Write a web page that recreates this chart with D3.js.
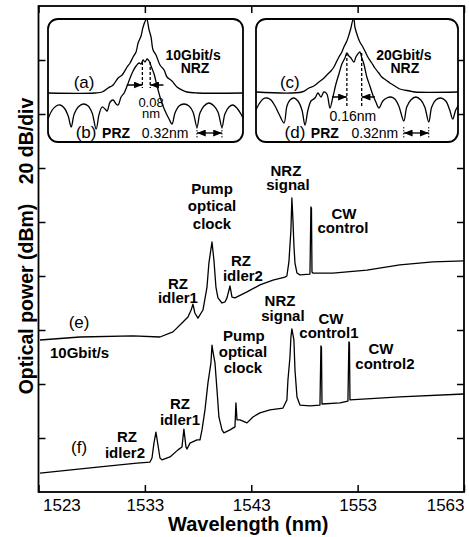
<!DOCTYPE html>
<html>
<head>
<meta charset="utf-8">
<script src="https://cdn.jsdelivr.net/npm/d3@7"></script>
<style>
  body { margin: 0; background: #fff; }
  text { font-family: "Liberation Sans", Arial, sans-serif; fill: #000; }
</style>
</head>
<body>
<div id="chart"></div>
<script>
// ---- data (wavelength nm, power dB) ----
const xTicks = [1523, 1533, 1543, 1553, 1563];
const yTicks = [-160, -140, -120, -100, -80, -60, -40, -20];

// (e) 10 Gbit/s spectrum
const traceE = [
  [1523.14,-123.7],[1526.90,-122.6],[1531.88,-122.2],[1534.42,-122.6],[1535.64,-120.7],
  [1536.49,-117.4],[1537.05,-115.2],[1537.35,-112.6],[1537.52,-110.4],[1537.70,-113.7],
  [1537.99,-115.6],[1538.46,-112.6],[1538.84,-104.1],[1539.02,-95.2],[1539.31,-87.4],
  [1539.49,-94.1],[1539.68,-104.1],[1539.87,-108.1],[1540.25,-110.0],[1540.53,-109.6],
  [1540.72,-108.1],[1541.00,-103.7],[1541.19,-107.8],[1541.47,-108.1],[1542.60,-105.9],
  [1543.82,-103.3],[1545.04,-101.5],[1546.17,-100.4],[1546.35,-100.0],[1546.54,-94.8],
  [1546.73,-83.0],[1546.82,-71.1],[1546.92,-79.3],[1547.01,-88.5],[1547.11,-95.2],
  [1547.30,-98.9],[1547.58,-99.6],[1548.52,-99.3],[1548.61,-74.4],[1548.66,-75.0],
  [1548.71,-98.5],[1548.80,-98.9],[1550.68,-98.9],[1553.87,-97.8],[1556.97,-95.9],
  [1560.08,-94.8],[1563.00,-94.4]
];

// (f) 20 Gbit/s spectrum
const traceF = [
  [1523.14,-173.0],[1528.78,-170.7],[1532.26,-169.3],[1533.48,-168.9],[1533.67,-167.4],
  [1533.85,-162.0],[1534.04,-157.8],[1534.23,-162.6],[1534.42,-167.4],[1534.61,-168.1],
  [1535.36,-167.0],[1536.11,-164.4],[1536.49,-163.3],[1536.58,-160.0],[1536.67,-156.7],
  [1536.86,-163.3],[1536.96,-164.1],[1537.24,-161.9],[1537.90,-160.7],[1538.18,-160.7],
  [1538.37,-157.0],[1538.65,-149.6],[1538.93,-139.6],[1539.21,-132.2],[1539.31,-125.6],
  [1539.40,-128.0],[1539.59,-132.2],[1539.78,-142.2],[1539.96,-152.2],[1540.25,-157.0],
  [1540.43,-158.1],[1541.00,-157.0],[1541.47,-155.9],[1541.56,-147.0],[1541.66,-153.3],
  [1541.94,-153.3],[1542.60,-154.4],[1543.16,-152.2],[1543.82,-150.7],[1544.76,-149.6],
  [1545.98,-148.9],[1546.35,-145.9],[1546.45,-138.5],[1546.64,-130.0],[1546.73,-122.6],
  [1546.82,-119.6],[1547.01,-123.7],[1547.11,-134.8],[1547.30,-144.8],[1547.58,-147.8],
  [1548.52,-148.1],[1549.46,-147.8],[1549.55,-125.9],[1549.60,-126.3],[1549.65,-147.4],
  [1551.34,-147.0],[1552.09,-146.3],[1552.18,-124.4],[1552.23,-124.8],[1552.28,-145.9],
  [1556.97,-144.8],[1563.00,-143.7]
];

// insets: offset from centre (nm), relative power (dB)
const insetA = [
  [-1.27,-29.6],[-0.666,-29.6],[-0.576,-29.2],[-0.499,-27.6],[-0.435,-26.4],[-0.371,-23.6],
  [-0.320,-22.4],[-0.256,-19.2],[-0.218,-17.6],[-0.179,-15.2],[-0.141,-13.2],[-0.115,-9.6],
  [-0.077,-6.8],[-0.051,-3.2],[-0.006,0],[0.026,-4.4],[0.051,-7.2],[0.077,-12.4],
  [0.115,-14.4],[0.166,-18.4],[0.218,-20.4],[0.256,-23.2],[0.320,-24.8],[0.384,-27.2],
  [0.448,-28.4],[0.512,-29.2],[0.640,-29.6],[1.23,-29.6]
];
const insetB = [
  [-1.27,-40.0],[-1.216,-36.4],[-1.165,-34.8],[-1.114,-34.4],[-1.062,-35.6],[-1.011,-38.8],
  [-0.973,-43.2],[-0.934,-38.0],[-0.883,-35.2],[-0.819,-34.0],[-0.755,-34.8],[-0.704,-37.6],
  [-0.653,-44.0],[-0.614,-38.0],[-0.576,-35.2],[-0.538,-36.0],[-0.512,-36.8],[-0.474,-33.2],
  [-0.435,-32.4],[-0.397,-34.0],[-0.371,-34.4],[-0.333,-31.2],[-0.294,-29.6],[-0.256,-26.8],
  [-0.218,-23.6],[-0.179,-20.8],[-0.141,-18.8],[-0.102,-17.6],[-0.077,-18.0],[-0.051,-16.4],
  [-0.026,-17.2],[0,-16.0],[0.026,-16.8],[0.051,-18.8],[0.090,-22.0],[0.128,-26.8],
  [0.166,-31.2],[0.205,-34.8],[0.243,-37.6],[0.282,-40.0],[0.320,-42.0],[0.358,-37.6],
  [0.410,-34.8],[0.474,-34.0],[0.538,-34.8],[0.589,-37.2],[0.640,-43.2],[0.678,-37.6],
  [0.730,-34.8],[0.794,-33.6],[0.858,-34.8],[0.909,-37.2],[0.960,-43.2],[0.998,-38.0],
  [1.050,-35.2],[1.101,-34.4],[1.152,-35.6],[1.203,-38.0],[1.23,-39.6]
];
const insetC = [
  [-1.255,-29.2],[-0.666,-29.2],[-0.576,-27.6],[-0.512,-26.8],[-0.448,-25.2],[-0.397,-24.0],
  [-0.346,-22.4],[-0.294,-20.8],[-0.256,-19.2],[-0.218,-16.8],[-0.192,-15.2],[-0.154,-13.2],
  [-0.128,-11.2],[-0.090,-8.8],[-0.064,-6.4],[-0.038,-3.6],[-0.013,-0.4],[0,0],
  [0.013,-3.2],[0.051,-7.2],[0.077,-9.2],[0.115,-11.2],[0.154,-13.6],[0.179,-15.2],
  [0.230,-17.6],[0.269,-19.6],[0.320,-21.6],[0.358,-23.2],[0.410,-24.4],[0.461,-25.6],
  [0.525,-26.8],[0.589,-28.0],[0.717,-28.8],[0.781,-29.2],[1.335,-29.2]
];
const insetD = [
  [-1.255,-36.4],[-1.216,-34.0],[-1.165,-32.0],[-1.114,-31.6],[-1.062,-32.4],[-1.011,-34.8],
  [-0.960,-38.0],[-0.896,-41.6],[-0.858,-34.8],[-0.819,-32.4],[-0.768,-31.6],[-0.717,-32.8],
  [-0.666,-36.4],[-0.627,-42.4],[-0.589,-36.4],[-0.550,-32.8],[-0.499,-31.6],[-0.461,-29.6],
  [-0.422,-31.2],[-0.384,-29.2],[-0.346,-30.0],[-0.307,-35.6],[-0.269,-31.2],[-0.230,-26.0],
  [-0.192,-22.0],[-0.154,-18.0],[-0.115,-15.6],[-0.090,-13.6],[-0.064,-14.8],[-0.038,-15.6],
  [0,-17.2],[0.026,-15.2],[0.051,-14.0],[0.077,-13.2],[0.102,-15.6],[0.128,-18.0],
  [0.166,-23.2],[0.205,-26.8],[0.243,-30.4],[0.282,-33.2],[0.320,-35.6],[0.371,-32.8],
  [0.422,-31.6],[0.474,-31.2],[0.525,-32.0],[0.576,-34.8],[0.640,-40.8],[0.678,-35.2],
  [0.730,-32.4],[0.794,-31.2],[0.858,-32.4],[0.909,-35.2],[0.960,-41.2],[0.998,-35.2],
  [1.050,-32.4],[1.114,-31.6],[1.178,-32.8],[1.229,-36.4],[1.267,-40.0],[1.306,-36.4],
  [1.335,-34.8]
];

// annotation text in data units: [text, wavelength, dB, bold]
const mainLabels = [
  ["Pump",1539.31,-69.6,1],["optical",1539.31,-75.9,1],["clock",1539.31,-82.6,1],
  ["NRZ",1546.26,-63.0,1],["signal",1546.45,-68.3,1],
  ["CW",1551.71,-79.0,1],["control",1551.62,-84.1,1],
  ["RZ",1542.03,-96.4,1],["idler2",1542.22,-101.9,1],
  ["RZ",1536.11,-104.9,1],["idler1",1536.11,-110.0,1],
  ["(e)",1526.81,-119.3,0],
  ["NRZ",1545.70,-111.2,1],["signal",1545.98,-116.7,1],
  ["CW",1550.49,-117.6,1],["control1",1550.30,-122.8,1],
  ["CW",1555.19,-129.0,1],["control2",1555.57,-134.3,1],
  ["Pump",1542.31,-124.1,1],["optical",1542.22,-129.9,1],["clock",1542.22,-135.9,1],
  ["RZ",1536.30,-149.3,1],["idler1",1536.30,-155.2,1],
  ["RZ",1531.32,-161.6,1],["idler2",1531.13,-167.4,1],
  ["(f)",1526.81,-165.6,0]
];
const rateLabel = ["10Gbit/s", 1524.08, -130.5];

// inset labels: [text, offset nm, dB, style]
const insetLabels = [
  [["10Gbit/s",0.590,-16.4,"b"],["NRZ",0.615,-21.6,"b"],["(a)",-0.808,-27.6,"p"],
   ["0.08",0.051,-35.2,"s"],["nm",0.051,-39.6,"s"],["(b)",-0.782,-47.6,"p"],
   ["PRZ",-0.397,-47.6,"b"],["0.32nm",0.231,-47.6,"m"]],
  [["20Gbit/s",0.641,-16.4,"b"],["NRZ",0.654,-21.6,"b"],["(c)",-0.821,-27.6,"p"],
   ["0.16nm",-0.013,-40.8,"m"],["(d)",-0.756,-47.6,"p"],
   ["PRZ",-0.372,-47.6,"b"],["0.32nm",0.269,-47.6,"m"]]
];
// spacing markers: dashed line pair, arrow tails, comb period
const gapLines = [[-0.06, 0.04], [-0.09, 0.10]];
const gapSpan = [[-17.2, -27.6], [-13.6, -35.0]];
const gapArrowY = [-26.4, -31.2];
const gapArrowTail = [[-0.26, 0.21], [-0.28, 0.27]];
const combPeriod = [[0.64, 0.96], [0.64, 0.96]];

// ---- layout ----
const W = 469, H = 537;
const svg = d3.select("#chart").append("svg").attr("width", W).attr("height", H);

const x = d3.scaleLinear().domain([1523, 1563]).range([38.5, 464]);
const y = d3.scaleLinear().domain([-180, 0]).range([492, 6]);

const defs = svg.append("defs");
defs.append("marker")
    .attr("id", "ah")
    .attr("viewBox", "0 0 10 8")
    .attr("refX", 10).attr("refY", 4)
    .attr("markerWidth", 9).attr("markerHeight", 7)
    .attr("markerUnits", "userSpaceOnUse")
    .attr("orient", "auto-start-reverse")
  .append("path").attr("d", "M0,0L10,4L0,8Z").attr("fill", "#000");

// axes: inward ticks on all four sides
const tick = 7;
const bottom = svg.append("g").attr("transform", `translate(0,${y(-180)})`)
    .call(d3.axisBottom(x).tickValues(xTicks).tickSizeInner(-tick).tickSizeOuter(0).tickPadding(7).tickFormat(d3.format("d")));
bottom.selectAll("text").style("font-size", "17px")
    .attr("text-anchor", (d, i) => i === 0 ? "start" : i === xTicks.length - 1 ? "end" : "middle")
    .attr("dx", (d, i) => i === 0 ? 4 : 0);
svg.append("g").attr("transform", `translate(0,${y(0)})`)
    .call(d3.axisTop(x).tickValues(xTicks).tickSizeInner(-tick).tickSizeOuter(0).tickFormat(""));
svg.append("g").attr("transform", `translate(${x(1523)},0)`)
    .call(d3.axisLeft(y).tickValues(yTicks).tickSizeInner(-tick).tickSizeOuter(0).tickFormat(""));
svg.append("g").attr("transform", `translate(${x(1563)},0)`)
    .call(d3.axisRight(y).tickValues(yTicks).tickSizeInner(-tick).tickSizeOuter(0).tickFormat(""));
svg.selectAll(".domain").remove();
svg.selectAll(".tick line").attr("stroke", "#000").attr("stroke-width", 1.5);

svg.append("rect")
    .attr("x", x(1523)).attr("y", y(0))
    .attr("width", x(1563) - x(1523)).attr("height", y(-180) - y(0))
    .attr("fill", "none").attr("stroke", "#000").attr("stroke-width", 1.8);

// main traces
const line = d3.line().x(d => x(d[0])).y(d => y(d[1]));
[traceE, traceF].forEach(t => {
  svg.append("path").datum(t).attr("d", line)
      .attr("fill", "none").attr("stroke", "#000").attr("stroke-width", 1.3)
      .attr("stroke-linejoin", "round");
});

svg.append("g").selectAll("text").data(mainLabels).join("text")
    .attr("x", d => x(d[1])).attr("y", d => y(d[2]))
    .attr("text-anchor", "middle")
    .style("font-size", d => d[3] ? "15px" : "17px")
    .style("font-weight", d => d[3] ? "bold" : "normal")
    .text(d => d[0]);
svg.append("text").attr("x", x(rateLabel[1])).attr("y", y(rateLabel[2]))
    .style("font-size", "15px").style("font-weight", "bold").text(rateLabel[0]);

// insets
const insetBoxes = [
  { x0: 48, x1: 243, domain: [-1.27, 1.23] },
  { x0: 256, x1: 458, domain: [-1.255, 1.335] }
];
const yi = d3.scaleLinear().domain([-49.2, 0]).range([142, 19]);
const insetTraces = [[insetA, insetB], [insetC, insetD]];
const labelStyle = {
  b: ["14px", "bold"], p: ["17px", "normal"], s: ["13px", "normal"], m: ["14px", "normal"]
};

insetBoxes.forEach((box, k) => {
  const xi = d3.scaleLinear().domain(box.domain).range([box.x0, box.x1]);
  const g = svg.append("g");
  g.append("rect")
      .attr("x", box.x0).attr("y", yi(0))
      .attr("width", box.x1 - box.x0).attr("height", yi(-49.2) - yi(0))
      .attr("rx", 10).attr("fill", "#fff").attr("stroke", "#000").attr("stroke-width", 1.8);

  const il = d3.line().x(d => xi(d[0])).y(d => yi(d[1])).curve(d3.curveCatmullRom.alpha(0.5));
  insetTraces[k].forEach(t => {
    g.append("path").datum(t).attr("d", il)
        .attr("fill", "none").attr("stroke", "#000").attr("stroke-width", 1.3);
  });

  // dashed markers and inward arrows
  gapLines[k].forEach((gx, j) => {
    g.append("line")
        .attr("x1", xi(gx)).attr("x2", xi(gx))
        .attr("y1", yi(gapSpan[k][0])).attr("y2", yi(gapSpan[k][1]))
        .attr("stroke", "#000").attr("stroke-width", 1.3).attr("stroke-dasharray", "3,2");
    g.append("line")
        .attr("x1", xi(gapArrowTail[k][j])).attr("x2", xi(gx))
        .attr("y1", yi(gapArrowY[k])).attr("y2", yi(gapArrowY[k]))
        .attr("stroke", "#000").attr("stroke-width", 1.5).attr("marker-end", "url(#ah)");
  });

  // comb period double arrow
  const cp = combPeriod[k];
  g.append("line")
      .attr("x1", xi(cp[0])).attr("x2", xi(cp[1]))
      .attr("y1", yi(-45.6)).attr("y2", yi(-45.6))
      .attr("stroke", "#000").attr("stroke-width", 1.3)
      .attr("marker-start", "url(#ah)").attr("marker-end", "url(#ah)");
  cp.forEach(c => {
    g.append("line")
        .attr("x1", xi(c)).attr("x2", xi(c))
        .attr("y1", yi(-43.2)).attr("y2", yi(-48.0))
        .attr("stroke", "#000").attr("stroke-width", 1).attr("stroke-dasharray", "1.5,1.5");
  });

  g.selectAll("text.lbl").data(insetLabels[k]).join("text")
      .attr("class", "lbl")
      .attr("x", d => xi(d[1])).attr("y", d => yi(d[2]))
      .attr("text-anchor", "middle")
      .style("font-size", d => labelStyle[d[3]][0])
      .style("font-weight", d => labelStyle[d[3]][1])
      .text(d => d[0]);
});

// axis titles
svg.append("text")
    .attr("transform", "translate(33,299) rotate(-90)")
    .attr("text-anchor", "middle")
    .style("font-size", "19.5px").style("font-weight", "bold")
    .text("Optical power (dBm)");
svg.append("text")
    .attr("transform", "translate(33,141) rotate(-90)")
    .attr("text-anchor", "middle")
    .style("font-size", "19.5px").style("font-weight", "bold")
    .text("20 dB/div");
svg.append("text")
    .attr("x", x(1543) - 3).attr("y", 531)
    .attr("text-anchor", "middle")
    .style("font-size", "20px").style("font-weight", "bold")
    .text("Wavelength (nm)");
</script>
</body>
</html>
